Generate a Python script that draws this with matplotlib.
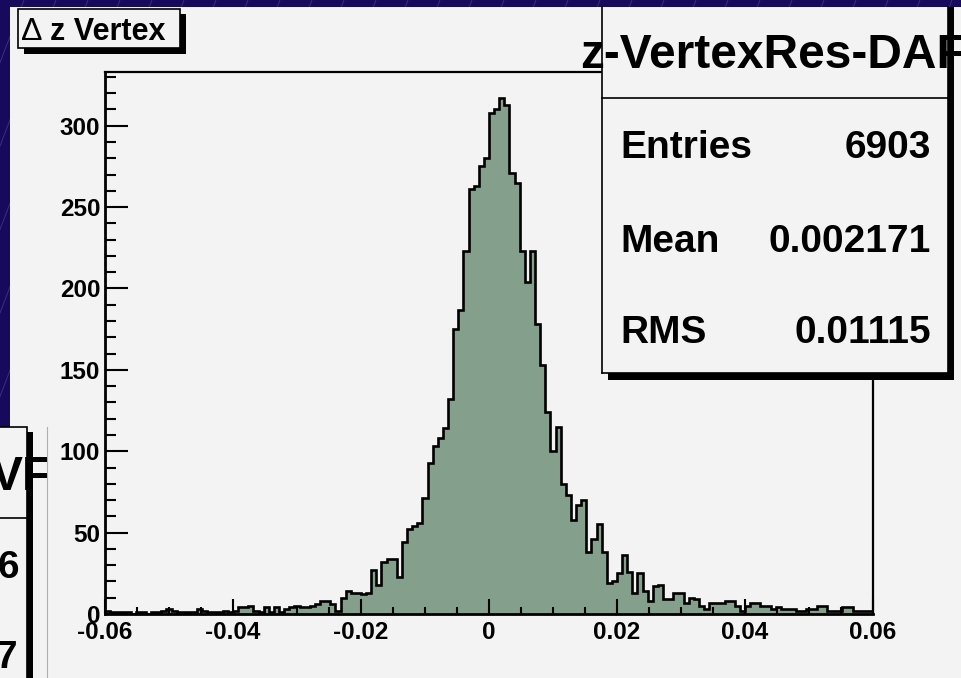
import matplotlib
matplotlib.use('Agg')
import matplotlib.pyplot as plt
import numpy as np
from matplotlib.patches import Rectangle
from matplotlib.lines import Line2D
from matplotlib.ticker import FixedLocator, MultipleLocator

plt.rcParams['font.family'] = ['Liberation Sans', 'DejaVu Sans']

# Histogram: 150 bins between -0.06 and 0.06
x_min, x_max, n_bins = -0.06, 0.06, 150
counts = [2, 1, 1, 1, 1, 0, 1, 1, 0, 1, 1, 2, 3, 2, 1, 1, 1, 1, 3, 2, 1, 1, 1, 2, 1,
          2, 4, 4, 5, 2, 1, 4, 1, 4, 1, 3, 4, 5, 4, 4,
          5, 6, 8, 8, 6, 2,
          10, 14, 13, 13, 12, 13, 27, 18, 32, 34, 34, 23, 44, 52, 54, 56, 71, 93, 103, 108, 114,
          132, 175, 187, 223, 261, 263, 275, 280, 308, 310, 317, 313, 271, 265, 223, 204, 223,
          178, 153, 124, 100, 115, 80, 73, 58, 67, 70, 38, 46, 55, 38,
          19, 20, 25, 36, 26, 13, 25, 14, 8, 17, 18, 9, 9, 13, 13, 7, 10, 9, 5, 3, 7, 7, 7, 8, 8,
          5, 2, 5, 7, 7, 5, 5, 3, 4, 3, 3, 3, 2, 2, 3, 3, 5, 5, 2, 2, 2, 4, 4, 2, 2, 2, 2]

x_ticks = [-0.06, -0.04, -0.02, 0.0, 0.02, 0.04, 0.06]
x_tick_labels = ['-0.06', '-0.04', '-0.02', '0', '0.02', '0.04', '0.06']
y_ticks = [0, 50, 100, 150, 200, 250, 300]
y_tick_labels = ['0', '50', '100', '150', '200', '250', '300']

hist_title = 'z-VertexRes-DAF'
stat_names = ['Entries', 'Mean', 'RMS']
stat_values = ['6903', '0.002171', '0.01115']

# colours
blue = '#170a5c'
panel = '#f3f3f3'
fill = '#84a08c'

W, H = 961, 678


def fx(px):
    return px / W


def fy(py):
    return 1 - py / H


fig = plt.figure(figsize=(W / 100, H / 100), dpi=100)
fig.patch.set_facecolor(blue)

# faint diagonal stripes on the blue background
for x0 in range(-300, 1000, 32):
    fig.add_artist(Line2D([fx(x0), fx(x0 + 260)], [fy(H), fy(0)], transform=fig.transFigure,
                          color='#6a5cae', lw=0.6, alpha=0.5, zorder=-10))

# main canvas
fig.add_artist(Rectangle((fx(10), 0), fx(W - 10), 1 - 7 / H, transform=fig.transFigure,
                         facecolor=panel, edgecolor='none', zorder=-5))

# axes
ax = fig.add_axes([fx(105), fy(614), fx(768), 542 / H])
ax.set_facecolor(panel)
edges = np.linspace(x_min, x_max, n_bins + 1)
ax.stairs(counts, edges, fill=True, color=fill)
ax.stairs(counts, edges, color='black', linewidth=1.9)
ax.set_xlim(x_min, x_max)
ax.set_ylim(0, 333)

ax.xaxis.set_major_locator(FixedLocator(x_ticks))
ax.set_xticklabels(x_tick_labels)
ax.yaxis.set_major_locator(FixedLocator(y_ticks))
ax.set_yticklabels(y_tick_labels)
ax.xaxis.set_minor_locator(MultipleLocator(0.005))
ax.yaxis.set_minor_locator(MultipleLocator(10))

ax.tick_params(axis='both', which='both', direction='in', width=1.5, color='black',
               top=False, right=False)
ax.tick_params(axis='y', which='major', length=16.5, pad=3.5)
ax.tick_params(axis='y', which='minor', length=8)
ax.tick_params(axis='x', which='major', length=11, pad=5)
ax.tick_params(axis='x', which='minor', length=5)
for lab in ax.get_xticklabels() + ax.get_yticklabels():
    lab.set_fontsize(17.5)
    lab.set_fontweight('bold')
for side in ['left', 'bottom']:
    ax.spines[side].set_linewidth(2.0)
for side in ['top', 'right']:
    ax.spines[side].set_linewidth(1.6)

# title box "Δ z Vertex"
fig.add_artist(Rectangle((fx(24), fy(54)), fx(162), 40 / H, transform=fig.transFigure,
                         facecolor='black', edgecolor='none', zorder=5))
fig.add_artist(Rectangle((fx(18), fy(48)), fx(162), 39 / H, transform=fig.transFigure,
                         facecolor=panel, edgecolor='black', lw=1.2, zorder=6))
fig.text(fx(21), fy(40), 'Δ', fontsize=23, color='black', va='baseline', zorder=7)
fig.text(fx(50), fy(40), 'z Vertex', fontsize=22, fontweight='bold', va='baseline', zorder=7)

# statistics box (its top edge sits under the canvas border)
fig.add_artist(Rectangle((fx(608), fy(380)), fx(346), 373 / H, transform=fig.transFigure,
                         facecolor='black', edgecolor='none', zorder=5))
fig.add_artist(Rectangle((fx(602), fy(373)), fx(346), 366 / H, transform=fig.transFigure,
                         facecolor=panel, edgecolor='none', zorder=6))
for xs, ys in [([602, 602], [7, 373]), ([948, 948], [7, 373]), ([602, 948], [373, 373]),
               ([602, 948], [98, 98])]:
    fig.add_artist(Line2D([fx(v) for v in xs], [fy(v) for v in ys], transform=fig.transFigure,
                          color='black', lw=1.2, zorder=7))
fig.text(fx(580), fy(68), hist_title, fontsize=34.5, fontweight='bold', va='baseline', zorder=8)
for name, value, base in zip(stat_names, stat_values, [158, 252, 343]):
    fig.text(fx(620), fy(base), name, fontsize=28, fontweight='bold', va='baseline', zorder=8)
    fig.text(fx(931), fy(base), value, fontsize=28, fontweight='bold', va='baseline',
             ha='right', zorder=8)

# second canvas peeking in at bottom left
canvas2 = Rectangle((0, 0), fx(47), fy(427), transform=fig.transFigure,
                    facecolor=panel, edgecolor='none', zorder=10)
fig.add_artist(canvas2)
fig.add_artist(Line2D([fx(47), fx(47)], [0, fy(427)], transform=fig.transFigure,
                      color='#b0b0b0', lw=0.8, zorder=11))
fig.add_artist(Rectangle((fx(-10), fy(700)), fx(43), 268 / H, transform=fig.transFigure,
                         facecolor='black', edgecolor='none', zorder=11))
fig.add_artist(Rectangle((fx(-10), fy(700)), fx(37), 273 / H, transform=fig.transFigure,
                         facecolor=panel, edgecolor='black', lw=1.2, zorder=12))
fig.add_artist(Line2D([0, fx(27)], [fy(518), fy(518)], transform=fig.transFigure,
                      color='black', lw=1.2, zorder=13))
t = fig.text(fx(-9), fy(490), 'VF', fontsize=34.5, fontweight='bold', va='baseline', zorder=14)
t.set_clip_path(canvas2)
fig.text(fx(19), fy(578), '6', fontsize=28, fontweight='bold', va='baseline', ha='right', zorder=14)
fig.text(fx(17), fy(668), '7', fontsize=28, fontweight='bold', va='baseline', ha='right', zorder=14)

fig.savefig('out.png', dpi=100, facecolor=fig.get_facecolor())
